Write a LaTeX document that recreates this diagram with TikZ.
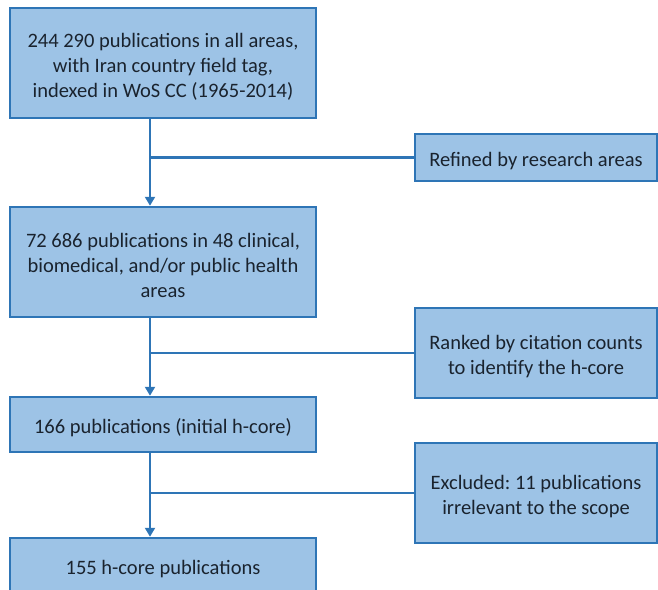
\documentclass[tikz,border=0pt]{standalone}
\usepackage{fontspec}
\setmainfont{Carlito}
\usetikzlibrary{arrows.meta}
\definecolor{boxfill}{HTML}{9DC3E6}
\definecolor{boxline}{HTML}{2E75B6}
\definecolor{txt}{HTML}{1A232E}
\newcommand{\lowerstrut}{\rule{0pt}{21pt}}
\frenchspacing
\begin{document}
\begin{tikzpicture}[x=1pt,y=-1pt,
  box/.style={draw=boxline, fill=boxfill, line width=2.5pt, align=center,
    text=txt, font=\fontsize{20.5}{25}\selectfont, inner sep=0pt},
  conn/.style={draw=boxline, line width=2.2pt},
  arr/.style={conn, -{Triangle[length=9pt,width=10pt]}}]
\useasboundingbox (0,0) rectangle (658,589);
\node[box, minimum width=306pt, minimum height=110pt] (b1) at (163,63)
  {\lowerstrut 244 290 publications in all areas,\\with Iran country field tag,\\indexed in WoS CC (1965-2014)};
\node[box, minimum width=306pt, minimum height=110pt] (b2) at (163,262)
  {\lowerstrut 72 686 publications in 48 clinical,\\biomedical, and/or public health\\areas};
\node[box, minimum width=306pt, minimum height=55pt] (b3) at (163,424.5)
  {\lowerstrut 166 publications (initial h-core)};
\node[box, minimum width=306pt, minimum height=56pt] (b4) at (163,566)
  {\lowerstrut 155 h-core publications};
\node[box, minimum width=242pt, minimum height=47pt] (r1) at (536,157.5)
  {\lowerstrut Refined by research areas};
\node[box, minimum width=242pt, minimum height=90pt] (r2) at (536,353)
  {\lowerstrut Ranked by citation counts\\to identify the h-core};
\node[box, minimum width=242pt, minimum height=100pt] (r3) at (536,493)
  {\lowerstrut Excluded: 11 publications\\irrelevant to the scope};
\coordinate (t1) at (150,0);
\draw[arr] (b1.south -| t1) -- (b2.north -| t1);
\draw[arr] (b2.south -| t1) -- (b3.north -| t1);
\draw[arr] (b3.south -| t1) -- (b4.north -| t1);
\draw[conn] (r1.west) -- (r1.west -| t1);
\draw[conn] (r2.west) -- (r2.west -| t1);
\draw[conn] (r3.west) -- (r3.west -| t1);
\end{tikzpicture}
\end{document}
